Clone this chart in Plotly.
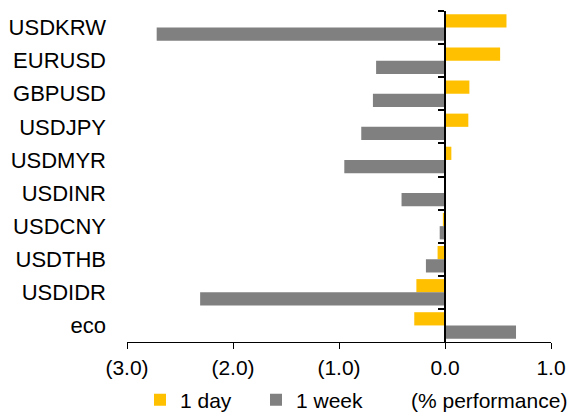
import plotly.graph_objects as go

categories = ["USDKRW", "EURUSD", "GBPUSD", "USDJPY", "USDMYR",
              "USDINR", "USDCNY", "USDTHB", "USDIDR", "eco"]
one_day = [0.58, 0.52, 0.23, 0.22, 0.06, 0.0, -0.02, -0.07, -0.27, -0.29]
one_week = [-2.72, -0.65, -0.68, -0.79, -0.95, -0.41, -0.05, -0.18, -2.31, 0.67]
x_tickvals = [-3, -2, -1, 0, 1]
x_ticktext = ["(3.0)", "(2.0)", "(1.0)", "0.0", "1.0"]
unit_label = "(% performance)"

X_MIN, X_MAX = -3.0, 1.0
FONT = "Liberation Sans, Arial, sans-serif"
PLOT_L, PLOT_R = 127, 551
PLOT_W = PLOT_R - PLOT_L
PLOT_T, PLOT_B = 11, 342
PLOT_H = PLOT_B - PLOT_T

fig = go.Figure()
fig.add_trace(go.Bar(y=categories, x=one_day, orientation="h", name="1 day",
                     marker=dict(color="#FFC000", line=dict(width=0))))
fig.add_trace(go.Bar(y=categories, x=one_week, orientation="h", name="1 week",
                     marker=dict(color="#808080", line=dict(width=0))))
# invisible trace giving the zero-line axis its categories
fig.add_trace(go.Scatter(y=categories, x=[None] * len(categories), yaxis="y2",
                         mode="markers", marker=dict(opacity=0),
                         showlegend=False, hoverinfo="skip"))

zero_pos = (0 - X_MIN) / (X_MAX - X_MIN)
legend_y = -(400 - PLOT_B) / PLOT_H

fig.update_layout(
    width=569, height=414,
    margin=dict(l=PLOT_L, r=569 - PLOT_R, t=PLOT_T, b=414 - PLOT_B, autoexpand=False),
    paper_bgcolor="white", plot_bgcolor="white",
    font=dict(family=FONT, size=21, color="black"),
    barmode="group", bargap=0.2, bargroupgap=0,
    showlegend=True,
    legend=dict(orientation="h", x=(140 - PLOT_L) / PLOT_W, xanchor="left",
                y=legend_y, yanchor="middle",
                entrywidth=71, entrywidthmode="pixels",
                font=dict(size=21), bgcolor="rgba(0,0,0,0)",
                traceorder="normal"),
    annotations=[dict(text=unit_label, xref="paper", yref="paper",
                      x=(409 - PLOT_L) / PLOT_W, xanchor="left",
                      y=legend_y, yanchor="middle", showarrow=False,
                      font=dict(size=21, color="black"))],
    xaxis=dict(range=[X_MIN, X_MAX], tickvals=x_tickvals, ticktext=x_ticktext,
               automargin=False,
               showgrid=False, zeroline=False, showline=True,
               linecolor="black", linewidth=1.3,
               ticks="outside", ticklen=6, tickwidth=1.3, tickcolor="black",
               ticklabelstandoff=1, tickfont=dict(size=21)),
    yaxis=dict(type="category", categoryorder="array", categoryarray=categories,
               range=[len(categories) - 0.5, -0.5], automargin=False,
               showgrid=False, zeroline=False, showline=False, ticks="",
               ticklabelstandoff=20, tickfont=dict(size=22)),
    yaxis2=dict(type="category", categoryorder="array", categoryarray=categories,
                range=[len(categories) - 0.5, -0.5], automargin=False,
                overlaying="y", anchor="free", position=zero_pos, side="left",
                showgrid=False, zeroline=False, showline=True,
                linecolor="black", linewidth=1.5,
                ticks="outside", tickson="boundaries", ticklen=6, tickwidth=2,
                tickcolor="black", showticklabels=False),
)

fig.write_html("out.html", config={"displayModeBar": False},
               post_script="document.body.style.margin='0';document.body.style.overflow='hidden';")
